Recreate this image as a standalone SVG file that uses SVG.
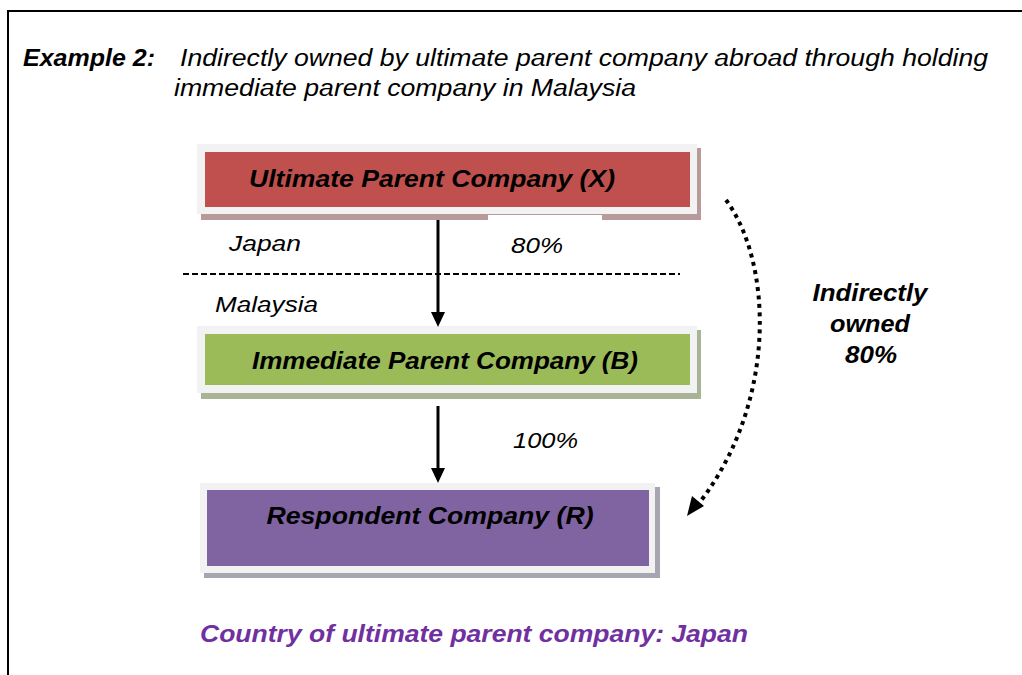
<svg xmlns="http://www.w3.org/2000/svg" width="1022" height="675" viewBox="0 0 1022 675">
<defs>
<style>
text{font-family:"Liberation Sans",Arial,sans-serif;font-style:italic;fill:#000}
.b{font-weight:bold}
.lbl{font-size:22px}
.node{font-size:23px;font-weight:bold;text-anchor:middle}
.frame{fill:#f2f2f2}
</style>
</defs>
<rect width="1022" height="675" fill="#fff"/>
<path d="M8,675 V11 H1022" fill="none" stroke="#000" stroke-width="2"/>

<g id="title">
<text x="23" y="66" class="b" font-size="23" textLength="132" lengthAdjust="spacingAndGlyphs">Example 2:</text>
<text x="180" y="66" font-size="23" textLength="808" lengthAdjust="spacingAndGlyphs">Indirectly owned by ultimate parent company abroad through holding</text>
<text x="174" y="96" font-size="23" textLength="462" lengthAdjust="spacingAndGlyphs">immediate parent company in Malaysia</text>
</g>

<g id="nodeX">
<rect x="201" y="148" width="500" height="72" fill="#b89a9a"/>
<rect x="197" y="144" width="500" height="70" class="frame"/>
<rect x="205" y="152" width="485" height="55" fill="#c0504d"/>
<text x="432" y="187" class="node" textLength="366" lengthAdjust="spacingAndGlyphs">Ultimate Parent Company (X)</text>
</g>

<g id="nodeB">
<rect x="201" y="330" width="500" height="69" fill="#a9b497"/>
<rect x="197" y="326" width="500" height="67" class="frame"/>
<rect x="205" y="334" width="485" height="51" fill="#9bbb59"/>
<text x="445" y="369" class="node" textLength="386" lengthAdjust="spacingAndGlyphs">Immediate Parent Company (B)</text>
</g>

<g id="nodeR">
<rect x="204" y="487" width="456" height="91" fill="#a6a6b0"/>
<rect x="200" y="483" width="455" height="90" class="frame"/>
<rect x="207" y="490" width="442" height="76" fill="#8064a2"/>
<text x="430" y="524" class="node" textLength="327" lengthAdjust="spacingAndGlyphs">Respondent Company (R)</text>
</g>

<rect x="488" y="215" width="114" height="8" fill="#fff"/>

<g id="labels">
<text x="229" y="251" class="lbl" textLength="72" lengthAdjust="spacingAndGlyphs">Japan</text>
<text x="511" y="253" class="lbl" textLength="52" lengthAdjust="spacingAndGlyphs">80%</text>
<text x="215" y="312" class="lbl" textLength="103" lengthAdjust="spacingAndGlyphs">Malaysia</text>
<text x="513" y="448" class="lbl" textLength="65" lengthAdjust="spacingAndGlyphs">100%</text>
<text x="870" y="301" class="node" textLength="115" lengthAdjust="spacingAndGlyphs">Indirectly</text>
<text x="870" y="332" class="node" textLength="80" lengthAdjust="spacingAndGlyphs">owned</text>
<text x="871" y="363" class="node" textLength="52" lengthAdjust="spacingAndGlyphs">80%</text>
<text x="200" y="642" class="b" font-size="24" style="fill:#7030a0" textLength="548" lengthAdjust="spacingAndGlyphs">Country of ultimate parent company: Japan</text>
</g>

<g id="connectors">
<line x1="183" y1="274" x2="680" y2="274" stroke="#000" stroke-width="2" stroke-dasharray="6 3"/>
<line x1="438" y1="220" x2="438" y2="314" stroke="#000" stroke-width="3"/>
<path d="M431,312 L445,312 L438,327 z" fill="#000"/>
<line x1="438" y1="406" x2="438" y2="470" stroke="#000" stroke-width="3"/>
<path d="M431,468 L445,468 L438,483 z" fill="#000"/>
<path d="M726,200 C772,262 778,400 700,502" fill="none" stroke="#000" stroke-width="4" stroke-dasharray="4 4.5"/>
<path d="M687,516 L692,496 L704,506 z" fill="#000"/>
</g>
</svg>
